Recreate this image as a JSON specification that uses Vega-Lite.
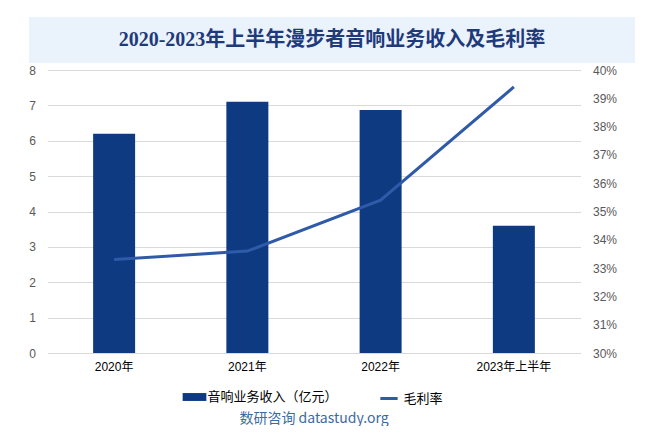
{
  "$schema": "https://vega.github.io/schema/vega-lite/v6.json",
  "padding": {"left": 19, "top": 17, "right": 0, "bottom": 0},
  "background": "white",
  "spacing": 1,
  "center": true,
  "config": {
    "view": {"stroke": null},
    "font": "Liberation Sans",
    "axis": {"labelFont": "Liberation Sans, Noto Sans CJK SC", "labelFontSize": 12, "labelColor": "#595959"},
    "legend": {"layout": {"bottom": {"anchor": "middle", "direction": "horizontal", "margin": 40}}}
  },
  "resolve": {"legend": {"color": "independent", "stroke": "independent"}},
  "datasets": {
    "main": [
      {"year": "2020年", "revenue": 6.2, "margin": 0.333, "s1": "音响业务收入（亿元）", "s2": "毛利率"},
      {"year": "2021年", "revenue": 7.1, "margin": 0.336, "s1": "音响业务收入（亿元）", "s2": "毛利率"},
      {"year": "2022年", "revenue": 6.87, "margin": 0.354, "s1": "音响业务收入（亿元）", "s2": "毛利率"},
      {"year": "2023年上半年", "revenue": 3.6, "margin": 0.394, "s1": "音响业务收入（亿元）", "s2": "毛利率"}
    ],
    "titleRow": [{"t": "2020-2023年上半年漫步者音响业务收入及毛利率"}]
  },
  "vconcat": [
    {
      "width": 606,
      "height": 46,
      "view": {"fill": "#eaf2fc", "stroke": null},
      "data": {"name": "titleRow"},
      "mark": {"type": "text", "font": "Liberation Serif, Noto Sans CJK SC", "fontSize": 20, "fontWeight": "bold", "color": "#1f3a7a", "align": "center", "baseline": "middle"},
      "encoding": {"text": {"field": "t"}}
    },
    {
      "width": 533,
      "height": 283,
      "data": {"name": "main"},
      "title": {"text": "数研咨询 datastudy.org", "orient": "bottom", "font": "Noto Sans CJK SC", "fontSize": 14, "fontWeight": "normal", "color": "#3e6aa0", "offset": 6},
      "layer": [
        {
          "mark": {"type": "bar", "width": 42},
          "encoding": {
            "x": {"field": "year", "type": "nominal", "sort": null, "axis": {"title": null, "labelAngle": 0, "labelColor": "#000000", "labelFontSize": 12, "labelPadding": 8, "domainColor": "#d9d9d9", "ticks": false}},
            "y": {"field": "revenue", "type": "quantitative", "scale": {"domain": [0, 8], "nice": false}, "axis": {"title": null, "values": [0,1,2,3,4,5,6,7,8], "labelOverlap": false, "labelFlush": false, "domain": false, "ticks": false, "labelPadding": 12, "minExtent": 28, "gridColor": "#d9d9d9"}},
            "color": {"field": "s1", "type": "nominal", "scale": {"range": ["#0e3a82"]}, "legend": {"title": null, "orient": "bottom", "offset": 16, "symbolType": "M-1.5,-0.5H1.5V0.5H-1.5Z", "symbolSize": 250, "labelFont": "Noto Sans CJK SC", "labelFontSize": 13, "labelColor": "#000000"}}
          }
        },
        {
          "mark": {"type": "line", "strokeWidth": 3},
          "encoding": {
            "x": {"field": "year", "type": "nominal", "sort": null},
            "y": {"field": "margin", "type": "quantitative", "scale": {"domain": [0.3, 0.4], "nice": false}, "axis": {"title": null, "format": ".0%", "values": [0.3,0.31,0.32,0.33,0.34,0.35,0.36,0.37,0.38,0.39,0.4], "labelOverlap": false, "labelFlush": false, "domain": false, "ticks": false, "grid": false, "labelPadding": 12, "orient": "right"}},
            "stroke": {"field": "s2", "type": "nominal", "scale": {"range": ["#2f5aa8"]}, "legend": {"title": null, "orient": "bottom", "offset": 16, "symbolType": "stroke", "symbolStrokeWidth": 3, "symbolSize": 300, "labelFont": "Noto Sans CJK SC", "labelFontSize": 13, "labelColor": "#000000"}}
          }
        }
      ],
      "resolve": {"scale": {"y": "independent"}}
    }
  ]
}
